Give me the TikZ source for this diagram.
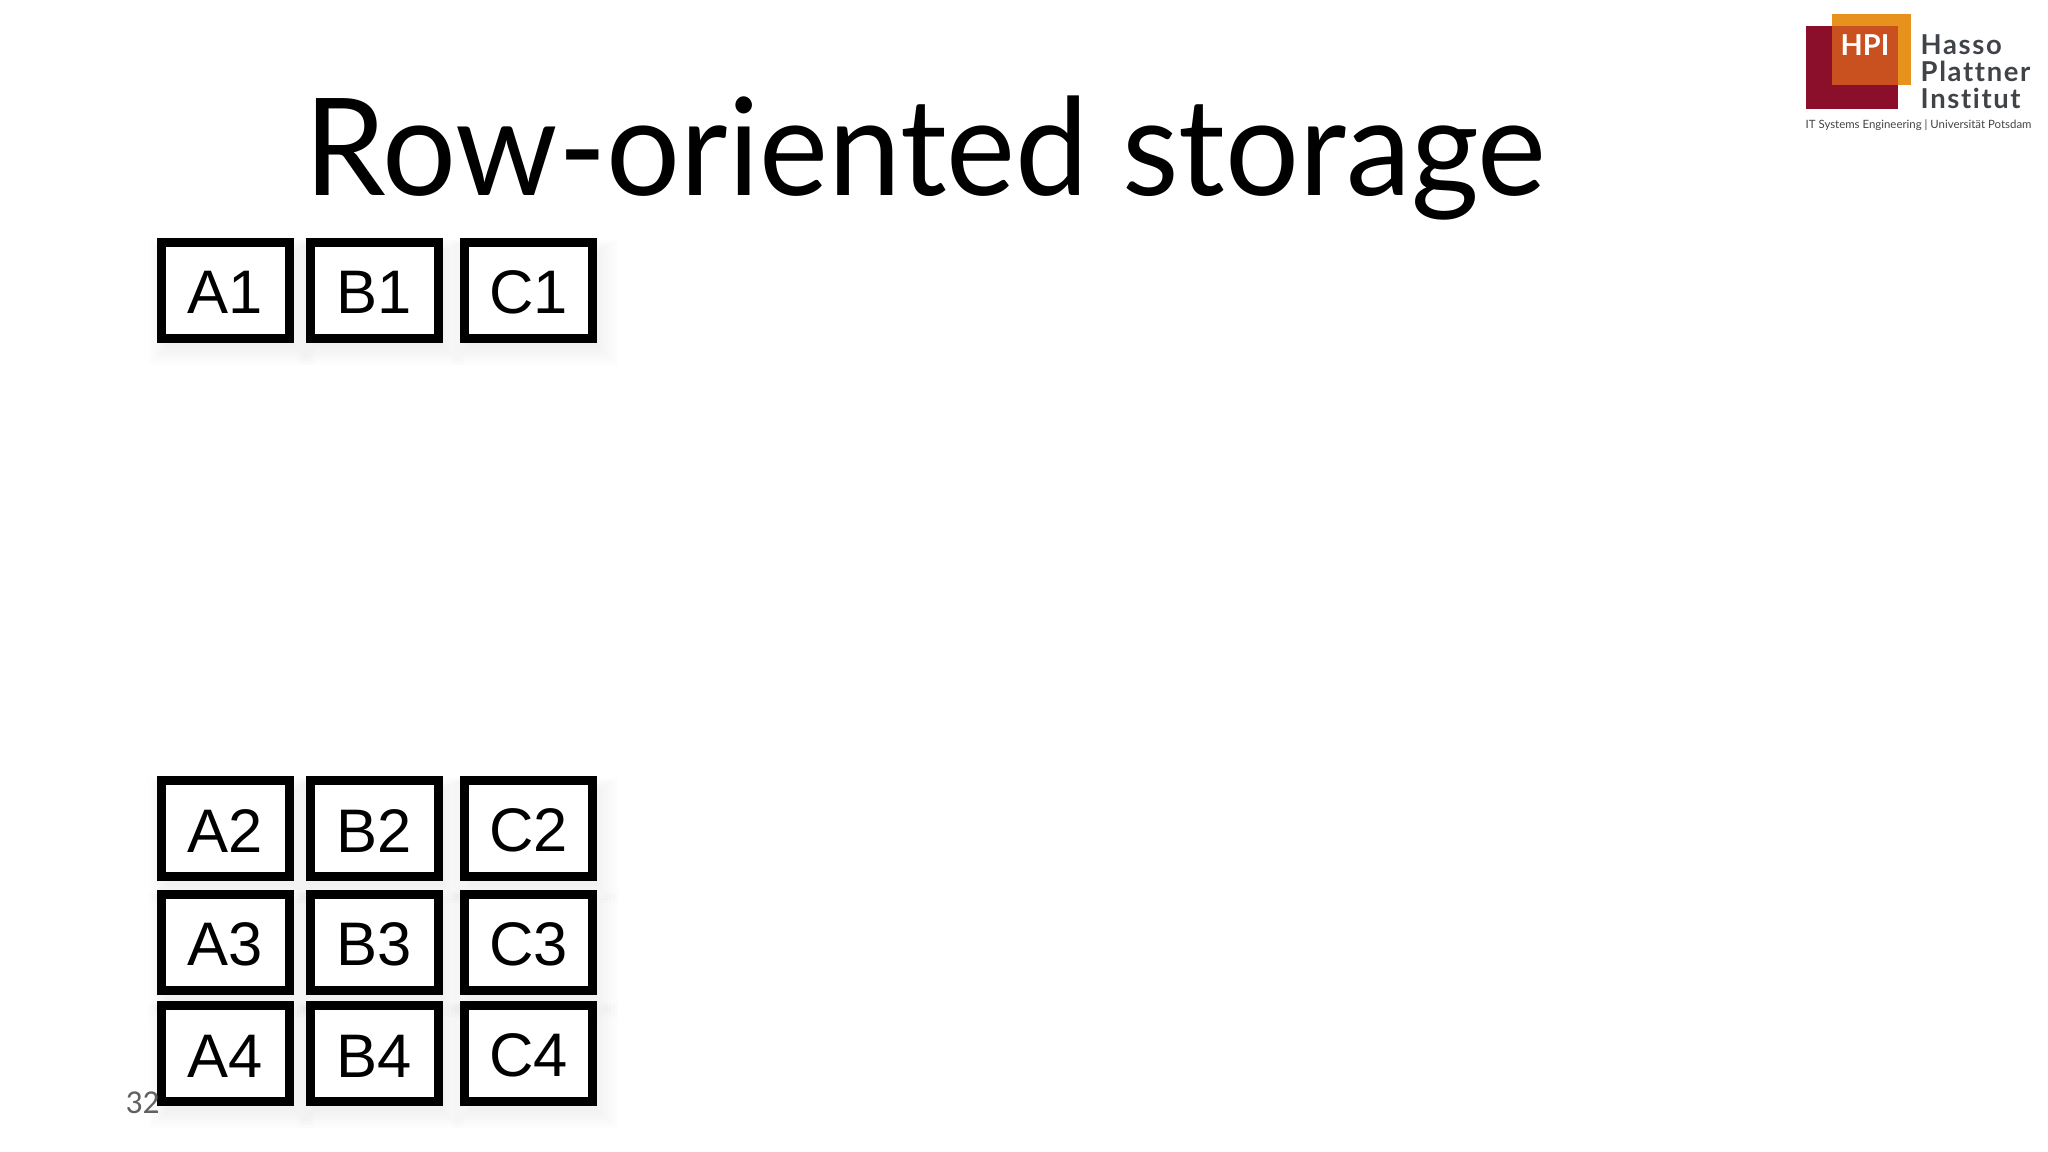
\documentclass[tikz,border=0pt]{standalone}
\usepackage{fontspec}
\setmainfont{Lato}
\newfontfamily\arialfont{Liberation Sans}
\newfontfamily\pagefont{Carlito}
\newfontfamily\logofont[LetterSpace=6,Ligatures={NoCommon,NoRequired}]{Lato Bold}
\usetikzlibrary{shadows}
\definecolor{hpired}{HTML}{8B0F2A}
\definecolor{hpiorange}{HTML}{E8921E}
\definecolor{hpimix}{HTML}{C9511F}
\definecolor{hpigray}{HTML}{404347}
\tikzset{
  softlayer/.style = {general shadow = {shadow xshift = 0.05cm, shadow yshift = -0.09cm, shadow scale = #1, opacity = 0.009, fill = black}},
  cell/.style = {draw, fill = white, line width = 0.09cm, minimum width = 1.28cm,
    minimum height = 0.96cm, text height = 0.465cm, inner sep = 0pt, font = \arialfont\fontsize{17.5}{20}\selectfont,
    softlayer = 1.3, softlayer = 1.25, softlayer = 1.2, softlayer = 1.15, softlayer = 1.1, softlayer = 1.05, softlayer = 1.0},
  logotext/.style = {anchor = base west, inner sep = 0pt, color = hpigray, font = \logofont\fontsize{7.8}{8}\selectfont}
}
\begin{document}
\begin{tikzpicture}
\useasboundingbox (0, 0) rectangle (20.48, 11.52);
\node (title) [anchor = base west, inner sep = 0pt, xscale = 0.965] at (3.04, 9.56) {\fontsize{38.5}{44}\selectfont Row-oriented storage};
% first row
\node (a1) [cell] at (2.255, 8.615) {A1};
\node (b1) [cell] at (3.74, 8.615) {B1};
\node (c1) [cell] at (5.285, 8.615) {C1};
% remaining rows
\node (a2) [cell] at (2.255, 3.23) {A2};
\node (b2) [cell] at (3.74, 3.23) {B2};
\node (c2) [cell] at (5.285, 3.23) {C2};
\node (a3) [cell] at (2.255, 2.09) {A3};
\node (b3) [cell] at (3.74, 2.09) {B3};
\node (c3) [cell] at (5.285, 2.09) {C3};
\node (a4) [cell] at (2.255, 0.98) {A4};
\node (b4) [cell] at (3.74, 0.98) {B4};
\node (c4) [cell] at (5.285, 0.98) {C4};
\node (pagenum) [anchor = base west, inner sep = 0pt, color = black!62] at (1.25, 0.38) {\pagefont\fontsize{9.5}{11}\selectfont 32};
% logo
\fill [hpired] (18.06, 10.43) rectangle (18.98, 11.26);
\fill [hpiorange] (18.32, 10.67) rectangle (19.11, 11.38);
\fill [hpimix] (18.32, 10.67) rectangle (18.98, 11.26);
\node (hpi) [anchor = base west, inner sep = 0pt, color = white] at (18.40, 10.96) {\bfseries\fontsize{8.2}{9}\selectfont HPI};
\node (hasso) [logotext] at (19.20, 10.97) {Hasso};
\node (plattner) [logotext] at (19.20, 10.70) {Plattner};
\node (institut) [logotext] at (19.20, 10.43) {Institut};
\node (claim) [anchor = base west, inner sep = 0pt, color = hpigray] at (18.05, 10.23) {\fontsize{3.25}{4}\selectfont IT Systems Engineering | Universität Potsdam};
\end{tikzpicture}
\end{document}
